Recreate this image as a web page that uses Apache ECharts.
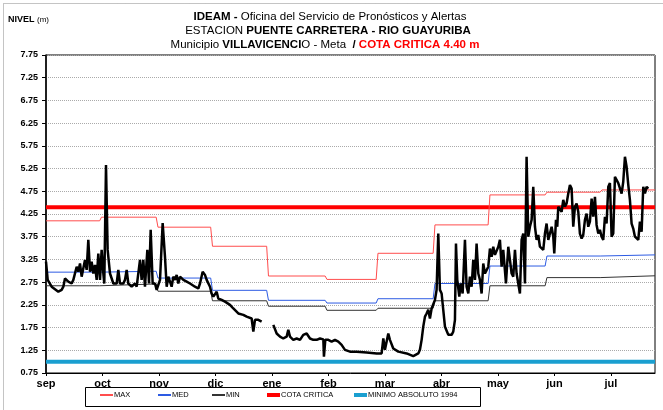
<!DOCTYPE html>
<html>
<head>
<meta charset="utf-8">
<script src="https://cdn.jsdelivr.net/npm/echarts@6/dist/echarts.min.js"></script>
<style>
html,body{margin:0;padding:0;background:#fff;}
#chart{width:663px;height:410px;}
</style>
</head>
<body>
<div id="chart"></div>
<script>
// Hydrological year, axis positions in months counted from 1 September
const meses = ['sep','oct','nov','dic','ene','feb','mar','abr','may','jun','jul'];
const posMes = [0,1,2,3,4,5,6,7,8,9,10];
const finEje = 10.78;
// where each month's reference value starts (daily data, so Feb is shorter)
const inicioMes = [0, 0.982, 1.982, 2.947, 3.938, 4.973, 5.876, 6.885, 7.858, 8.867, 9.841];

// monthly reference levels (m)
const nivelMax = [4.10, 4.18, 3.96, 3.54, 2.885, 2.81, 3.385, 4.01, 4.67, 4.73, 4.78];
const nivelMed = [2.97, 2.99, 2.84, 2.57, 2.35, 2.29, 2.385, 2.72, 3.105, 3.325, 3.35];
const nivelMin = [2.67, 2.71, 2.55, 2.34, 2.22, 2.13, 2.175, 2.34, 2.67, 2.85, 2.89];
const cotaCritica = 4.40;
const minimoAbsoluto = 1.00;

// level axis ticks
const nivelTicks = [0.75,1.25,1.75,2.25,2.75,3.25,3.75,4.25,4.75,5.25,5.75,6.25,6.75,7.25,7.75];

// observed daily level [month position, level m]
const nivelObservado = [
  [0.000,3.20],[0.030,2.80],[0.100,2.65],[0.218,2.54],[0.277,2.58],[0.307,2.65],[0.336,2.83],[0.366,2.87],
  [0.395,2.76],[0.454,2.72],[0.484,2.80],[0.543,3.09],[0.572,2.98],[0.602,3.16],[0.631,2.87],[0.690,3.24],
  [0.720,3.02],[0.749,3.68],[0.779,2.98],[0.808,3.20],[0.838,2.94],[0.867,3.13],[0.897,2.80],[0.926,3.38],
  [0.956,2.80],[0.985,3.46],[1.015,2.94],[1.032,2.72],[1.062,5.33],[1.091,3.46],[1.133,2.94],[1.192,2.72],
  [1.251,2.72],[1.280,3.02],[1.310,2.72],[1.369,2.72],[1.398,2.80],[1.428,3.02],[1.457,2.72],[1.516,2.65],
  [1.575,2.72],[1.605,2.65],[1.664,3.24],[1.693,2.80],[1.723,3.24],[1.752,2.65],[1.794,3.46],[1.823,2.72],
  [1.853,3.90],[1.888,2.72],[1.929,2.72],[1.959,2.58],[2.018,2.80],[2.065,4.05],[2.106,3.31],[2.136,2.65],
  [2.165,2.87],[2.224,2.65],[2.254,2.87],[2.283,2.80],[2.313,2.91],[2.342,2.72],[2.372,2.87],
  [2.431,2.80],[2.490,2.76],[2.549,2.72],[2.637,2.65],[2.696,2.61],[2.726,2.72],[2.773,2.98],[2.814,2.91],
  [2.844,2.80],[2.903,2.65],[2.932,2.50],[2.962,2.43],[3.021,2.54],[3.050,2.39],[3.109,2.36],[3.168,2.32],
  [3.257,2.25],[3.316,2.17],[3.404,2.06],[3.493,2.03],[3.552,1.99],[3.640,1.95],[3.670,1.66],[3.699,1.92],
  [3.758,1.92],[3.817,1.88],null,
  [4.024,1.81],[4.083,1.62],[4.142,1.55],[4.200,1.51],[4.260,1.55],[4.289,1.70],[4.319,1.55],[4.377,1.48],
  [4.437,1.51],[4.496,1.48],[4.554,1.59],[4.614,1.62],[4.673,1.51],[4.731,1.48],[4.791,1.48],[4.850,1.51],
  [4.909,1.49],[4.920,1.11],[4.944,1.48],[4.997,1.48],[5.056,1.44],[5.115,1.48],[5.174,1.44],[5.233,1.37],
  [5.292,1.26],[5.381,1.22],[5.499,1.22],[5.676,1.20],[5.853,1.18],[5.941,1.18],[5.971,1.51],[6.000,1.26],
  [6.059,1.62],[6.088,1.48],[6.147,1.29],[6.236,1.22],
  [6.384,1.18],[6.501,1.12],[6.590,1.18],[6.619,1.26],[6.649,1.48],[6.678,1.77],[6.708,1.99],[6.737,2.06],
  [6.767,2.14],[6.796,1.95],[6.826,2.17],[6.855,2.21],[6.885,2.36],[6.914,2.58],[6.944,3.82],[6.973,2.58],
  [7.003,2.50],[7.032,2.14],[7.062,1.77],[7.121,1.59],[7.180,1.59],[7.209,1.66],[7.239,1.92],[7.257,3.60],
  [7.280,2.80],[7.316,2.43],[7.339,2.72],[7.375,2.50],[7.416,3.68],[7.445,2.65],[7.475,2.50],[7.504,2.87],
  [7.534,2.65],[7.563,3.24],[7.593,2.80],[7.622,3.60],[7.652,2.94],[7.681,2.80],[7.711,2.50],[7.740,3.16],
  [7.770,2.94],[7.799,2.94],[7.829,3.09],[7.858,3.49],[7.888,3.31],[7.917,3.53],[7.947,3.35],[7.976,3.31],
  [8.006,3.53],[8.035,3.68],[8.065,3.09],[8.094,3.46],[8.142,2.72],[8.183,3.53],[8.212,3.24],[8.242,2.94],
  [8.271,2.87],[8.301,3.46],[8.330,2.94],[8.389,2.50],[8.419,3.68],[8.448,3.82],[8.478,2.72],[8.507,5.51],
  [8.537,3.75],[8.566,3.97],[8.596,4.12],[8.625,4.85],[8.655,3.97],[8.684,3.68],[8.714,3.79],[8.743,3.53],
  [8.802,3.46],[8.832,3.82],[8.861,4.04],[8.891,3.68],[8.920,3.82],[8.950,3.97],[8.979,3.75],[8.997,3.38],
  [9.027,4.12],[9.050,3.97],[9.068,4.41],[9.097,4.45],[9.127,4.30],[9.156,4.56],[9.186,4.41],[9.215,4.48],
  [9.245,4.70],[9.274,4.89],[9.304,4.81],[9.333,3.97],[9.363,4.41],[9.392,4.48],[9.422,4.30],[9.451,3.82],
  [9.481,3.71],[9.510,3.79],[9.540,4.12],[9.569,4.26],[9.599,3.97],[9.628,4.08],[9.658,4.59],[9.687,4.19],
  [9.717,4.63],[9.746,4.01],[9.776,3.82],[9.805,3.90],[9.835,3.75],[9.864,3.68],[9.894,4.19],[9.923,4.04],
  [9.953,4.85],[9.982,4.93],[10.012,3.75],[10.041,3.82],[10.071,5.07],[10.100,5.11],[10.130,4.93],[10.159,4.96],
  [10.189,4.70],[10.218,4.96],[10.248,5.51],[10.277,5.29],[10.307,4.89],[10.336,4.56],[10.366,4.04],[10.395,3.93],
  [10.425,3.75],[10.454,3.79],[10.484,3.68],[10.513,4.08],[10.543,3.86],[10.572,4.85],[10.602,4.70],[10.631,4.85],
  [10.661,4.81]
];

// monthly constant, joined day to day like a daily series
function escalones(vals) {
  const pts = [];
  for (let k = 0; k < vals.length; k++) {
    const a = inicioMes[k];
    const b = k + 1 < vals.length ? inicioMes[k + 1] - 0.032 : finEje;
    pts.push([a, vals[k]], [b, vals[k]]);
  }
  return pts;
}
function horizontal(v) { return [[0, v], [finEje, v]]; }

const FONT = '"Liberation Sans Narrow","Arial Narrow","Liberation Sans",Arial,sans-serif';
const tNorm = {fontFamily: FONT, fontSize: 11.5, fontWeight: 'normal', color: '#000'};
const tBold = {fontFamily: FONT, fontSize: 11.5, fontWeight: 'bold', color: '#000'};
const tRed = {fontFamily: FONT, fontSize: 11.5, fontWeight: 'bold', color: '#ff0000'};

const chart = echarts.init(document.getElementById('chart'), null, {renderer: 'canvas'});

const lineSeries = (name, data, color, width, z) => ({
  name, type: 'line', data, showSymbol: false, symbol: 'none', silent: true,
  lineStyle: {color, width}, itemStyle: {color}, z, animation: false
});

// one legend box entry per series, spread along the frame below the axis
const leyenda = (name, left, thick) => ({
  left, top: 391, padding: 0, itemWidth: 13, itemHeight: thick, itemGap: 0,
  icon: 'rect', selectedMode: false,
  textStyle: {fontFamily: FONT, fontSize: 7.5, color: '#000', padding: [0, 0, 0, -4]},
  data: [name]
});

chart.setOption({
  backgroundColor: '#fff',
  animation: false,
  grid: {left: 46, right: 8, top: 55, bottom: 37, show: true, borderColor: '#000', borderWidth: 1, containLabel: false},
  title: [
    {text: '{b|IDEAM - }{n|Oficina del Servicio de Pronósticos y Alertas}', left: 330, top: 11, padding: 0, textAlign: 'center',
     textStyle: {fontWeight: 'normal', rich: {b: tBold, n: tNorm}}},
    {text: '{n|ESTACION }{b|PUENTE CARRETERA - RIO GUAYURIBA}', left: 328, top: 25, padding: 0, textAlign: 'center',
     textStyle: {fontWeight: 'normal', rich: {b: tBold, n: tNorm}}},
    {text: '{n|Municipio }{b|VILLAVICENCI}{n|O - Meta }{b| / }{r|COTA CRITICA 4.40 m}', left: 325, top: 39, padding: 0, textAlign: 'center',
     textStyle: {fontWeight: 'normal', rich: {b: tBold, n: tNorm, r: tRed}}},
    {text: '{b|NIVEL }{n|(m)}', left: 8, top: 15, padding: 0,
     textStyle: {fontWeight: 'normal', rich: {
       b: {fontFamily: FONT, fontSize: 9, fontWeight: 'bold', color: '#000'},
       n: {fontFamily: FONT, fontSize: 8, fontWeight: 'normal', color: '#000'}}}}
  ],
  legend: [
    leyenda('MAX', 100, 2),
    leyenda('MED', 158, 2),
    leyenda('MIN', 212, 2),
    leyenda('COTA CRITICA', 267, 4),
    leyenda('MINIMO ABSOLUTO 1994', 354, 4)
  ],
  graphic: [
    {type: 'rect', shape: {x: 3.5, y: 3.5, width: 700, height: 500}, style: {fill: 'none', stroke: '#888', lineWidth: 1, lineDash: [1, 1]}, silent: true, z: -10},
    {type: 'rect', shape: {x: 85.5, y: 387.5, width: 395, height: 19}, style: {fill: '#fff', stroke: '#000', lineWidth: 1}, silent: true, z: -1}
  ],
  xAxis: {
    type: 'value', min: 0, max: finEje,
    axisLine: {show: true, lineStyle: {color: '#000', width: 1}},
    axisTick: {show: true, length: 3, customValues: posMes, lineStyle: {color: '#000'}},
    axisLabel: {customValues: posMes, formatter: v => meses[Math.round(v)] || '', fontFamily: FONT, fontSize: 11, fontWeight: 'bold', color: '#000', margin: 5},
    splitLine: {show: false}
  },
  yAxis: {
    type: 'value', min: 0.75, max: 7.75,
    axisLine: {show: true, lineStyle: {color: '#000', width: 1.5}},
    axisTick: {show: true, length: 4, customValues: nivelTicks, lineStyle: {color: '#000'}},
    axisLabel: {customValues: nivelTicks, formatter: v => v.toFixed(2), fontFamily: FONT, fontSize: 9, fontWeight: 'bold', color: '#000', margin: 8},
    splitLine: {show: true, lineStyle: {color: '#aaa', type: [1, 1], width: 1}}
  },
  series: [
    lineSeries('MINIMO ABSOLUTO 1994', horizontal(minimoAbsoluto), '#1a9fd0', 4, 2),
    lineSeries('COTA CRITICA', horizontal(cotaCritica), '#ff0000', 4, 3),
    lineSeries('MAX', escalones(nivelMax), '#ff4d4d', 1, 4),
    lineSeries('MED', escalones(nivelMed), '#2d5be3', 1, 4),
    lineSeries('MIN', escalones(nivelMin), '#333333', 1, 4),
    Object.assign(lineSeries('NIVEL', nivelObservado, '#000000', 2.5, 5), {connectNulls: false})
  ]
});
</script>
</body>
</html>
